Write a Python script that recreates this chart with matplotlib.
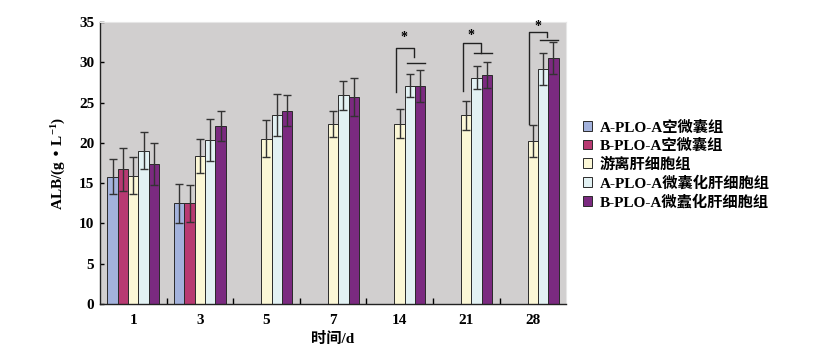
import matplotlib.pyplot as plt
import numpy as np

plt.rcParams['font.family'] = ['Liberation Serif', 'Noto Sans CJK SC']
plt.rcParams['font.weight'] = 'bold'
plt.rcParams['mathtext.default'] = 'regular'

# data
days = ['1', '3', '5', '7', '14', '21', '28']
labels = ['A-PLO-A空微囊组', 'B-PLO-A空微囊组', '游离肝细胞组',
          'A-PLO-A微囊化肝细胞组', 'B-PLO-A微蠹化肝细胞组']
a_empty = [15.8, 12.5, None, None, None, None, None]
a_empty_err = [2.2, 2.4, None, None, None, None, None]
b_empty = [16.7, 12.5, None, None, None, None, None]
b_empty_err = [2.7, 2.3, None, None, None, None, None]
free_cell = [15.9, 18.4, 20.5, 22.3, 22.4, 23.4, 20.2]
free_cell_err = [2.3, 2.1, 2.3, 1.6, 1.8, 1.8, 2.0]
a_cap = [19.0, 20.4, 23.5, 25.9, 27.1, 28.1, 29.2]
a_cap_err = [2.3, 2.6, 2.6, 1.8, 1.4, 1.4, 2.0]
b_cap = [17.4, 22.1, 24.0, 25.7, 27.1, 28.4, 30.5]
b_cap_err = [2.6, 1.9, 1.9, 2.4, 2.0, 1.6, 2.0]

series = [a_empty, b_empty, free_cell, a_cap, b_cap]
errors = [a_empty_err, b_empty_err, free_cell_err, a_cap_err, b_cap_err]
COLORS = ['#a3b2dc', '#b83a72', '#fbf7d6', '#e2f1f3', '#7b2a80']

# significance brackets: group index, bracket bottom, top, drop end, second line, star
sig_groups = [4, 5, 6]
sig_low = [26.3, 26.4, 22.3]
sig_top = [31.8, 32.4, 33.8]
sig_drop = [30.6, 31.2, 33.1]
sig_line = [29.9, 31.2, 32.8]
sig_star = [33.1, 33.3, 34.4]

fig = plt.figure(figsize=(8.25, 3.61), dpi=100, facecolor='w')
ax = fig.add_axes([0.1212, 0.158, 0.565, 0.781])
ax.set_facecolor('#d1cfcf')

w = 0.155
x = np.arange(len(days)) + 0.5
handles = []
for k, (vals, errs) in enumerate(zip(series, errors)):
    xs = [xi + (k - 2) * w for xi, v in zip(x, vals) if v is not None]
    vs = [v for v in vals if v is not None]
    es = [e for e in errs if e is not None]
    h = ax.bar(xs, vs, w, color=COLORS[k], edgecolor='#2a2a2a', linewidth=0.7, zorder=2)
    ax.errorbar(xs, vs, yerr=es, fmt='none', ecolor='#333333', elinewidth=1.0,
                capsize=3, capthick=1.0, zorder=3)
    handles.append(h)

for g, lo, top, drop, line, star in zip(sig_groups, sig_low, sig_top, sig_drop, sig_line, sig_star):
    xl = x[g] - 0.05
    xr = x[g] + 0.22
    ax.plot([xl, xl, xr, xr], [lo, top, top, drop], color='#222222', lw=1.0, zorder=4)
    ax.plot([x[g] + 0.11, x[g] + 0.38], [line, line], color='#222222', lw=1.0, zorder=4)
    ax.text(x[g] + 0.07, star, '*', ha='center', va='center', fontsize=10, fontweight='bold')

ax.set_xlim(0, len(days))
ax.set_ylim(0, 35)
ax.set_yticks(range(0, 36, 5))
ax.set_xticks(np.arange(1, len(days)))
ax.set_xticklabels([])
ax.set_xticks(x, minor=True)
ax.set_xticklabels(days, minor=True)
ax.tick_params(axis='x', which='major', direction='in', length=4, width=1)
ax.tick_params(axis='x', which='minor', length=0, pad=7, labelsize=11)
ax.tick_params(axis='y', direction='in', length=3, width=1, labelsize=11, pad=4)

for s in ['top', 'right']:
    ax.spines[s].set_color('#e6e6e6')
for s in ['left', 'bottom']:
    ax.spines[s].set_color('#222222')
    ax.spines[s].set_linewidth(1.0)

ax.set_ylabel('ALB/(g • L$^{-1}$)', fontsize=11, fontweight='bold', labelpad=8)
ax.set_xlabel('时间/d', fontsize=11, fontweight='bold', labelpad=4)

fig.legend(handles, labels, loc='upper left', bbox_to_anchor=(0.69, 0.705),
           frameon=False, handlelength=0.6, handleheight=0.6,
           handletextpad=0.5, labelspacing=0.28, prop={'weight': 'bold', 'size': 11})

fig.savefig('out.png', dpi=100)
